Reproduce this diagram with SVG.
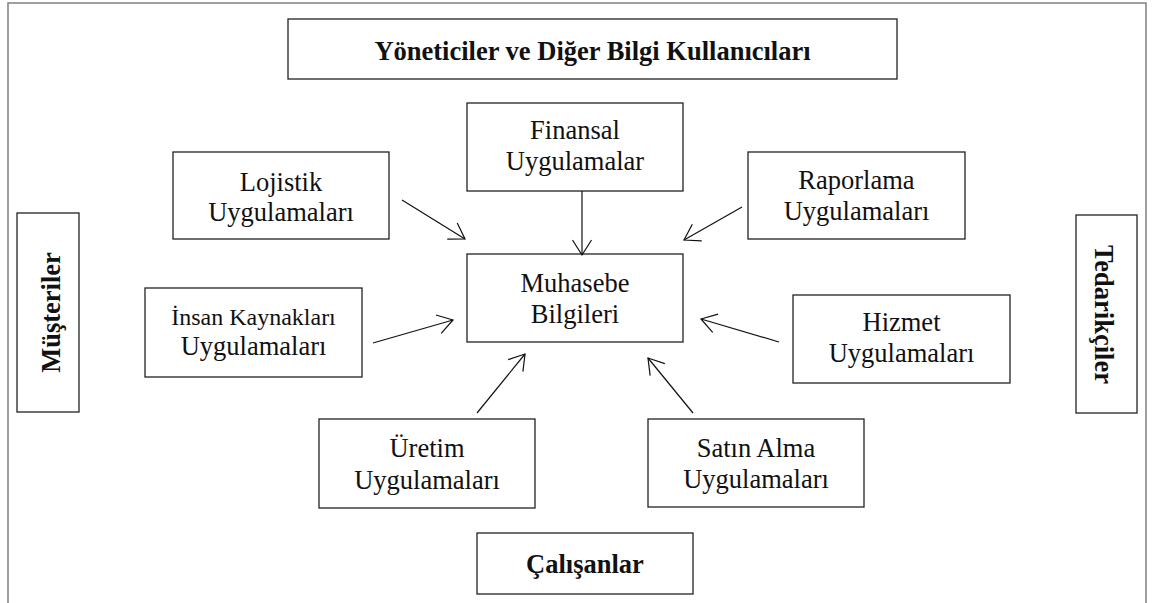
<svg xmlns="http://www.w3.org/2000/svg" width="1156" height="603" viewBox="0 0 1156 603">
<style>
.box{fill:#fff;stroke:#222;stroke-width:1.3}
.t{font-family:"Liberation Serif","Times New Roman",serif;font-size:26.5px;fill:#111;text-anchor:middle}
.b{font-weight:bold}
.c{stroke:#111;stroke-width:1.2;fill:none;marker-end:url(#ah)}
</style>
<defs>
<marker id="ah" markerUnits="userSpaceOnUse" markerWidth="40" markerHeight="40" viewBox="-20 -20 40 40" refX="0" refY="0" orient="auto" overflow="visible">
<path d="M-15,-9.5 L0,0 L-15,9.5" fill="none" stroke="#111" stroke-width="1.2"/>
</marker>
</defs>
<rect width="1156" height="603" fill="#fff"/>
<rect x="8" y="3" width="1138" height="620" fill="none" stroke="#777" stroke-width="1.4"/>

<g id="yoneticiler">
<rect class="box" x="288" y="19" width="609" height="60"/>
<text class="t b" x="592.5" y="60">Yöneticiler ve Diğer Bilgi Kullanıcıları</text>
</g>
<g id="lojistik">
<rect class="box" x="173" y="152" width="216" height="87"/>
<text class="t" x="281" y="191">Lojistik</text>
<text class="t" x="281" y="221">Uygulamaları</text>
</g>
<g id="finansal">
<rect class="box" x="467" y="103" width="216" height="88"/>
<text class="t" x="575" y="139">Finansal</text>
<text class="t" x="575" y="170">Uygulamalar</text>
</g>
<g id="raporlama">
<rect class="box" x="748" y="152" width="217" height="87"/>
<text class="t" x="856.5" y="189">Raporlama</text>
<text class="t" x="856.5" y="220">Uygulamaları</text>
</g>
<g id="musteriler">
<rect class="box" x="17" y="213" width="62" height="199"/>
<text class="t b" transform="translate(60,312.5) rotate(-90)">Müşteriler</text>
</g>
<g id="tedarikciler">
<rect class="box" x="1076" y="215" width="61" height="198"/>
<text class="t b" transform="translate(1095,314.5) rotate(90)">Tedarikçiler</text>
</g>
<g id="insan">
<rect class="box" x="145" y="288" width="217" height="89"/>
<text class="t" x="253.5" y="325" style="font-size:24px">İnsan Kaynakları</text>
<text class="t" x="253.5" y="355">Uygulamaları</text>
</g>
<g id="muhasebe">
<rect class="box" x="467" y="254" width="216" height="88"/>
<text class="t" x="575" y="292">Muhasebe</text>
<text class="t" x="575" y="323">Bilgileri</text>
</g>
<g id="hizmet">
<rect class="box" x="793" y="295" width="217" height="88"/>
<text class="t" x="901.5" y="331">Hizmet</text>
<text class="t" x="901.5" y="362">Uygulamaları</text>
</g>
<g id="uretim">
<rect class="box" x="319" y="419" width="216" height="89"/>
<text class="t" x="427" y="457">Üretim</text>
<text class="t" x="427" y="489">Uygulamaları</text>
</g>
<g id="satinalma">
<rect class="box" x="648" y="419" width="216" height="88"/>
<text class="t" x="756" y="457">Satın Alma</text>
<text class="t" x="756" y="488">Uygulamaları</text>
</g>
<g id="calisanlar">
<rect class="box" x="477" y="533" width="216" height="61"/>
<text class="t b" x="585" y="573">Çalışanlar</text>
</g>

<g id="connectors">
<line class="c" x1="402" y1="200" x2="465" y2="239"/>
<line class="c" x1="582" y1="191" x2="582" y2="255"/>
<line class="c" x1="742" y1="207" x2="684" y2="240"/>
<line class="c" x1="373" y1="343" x2="453" y2="320"/>
<line class="c" x1="779" y1="342" x2="701" y2="319"/>
<line class="c" x1="477" y1="413" x2="525" y2="354"/>
<line class="c" x1="693" y1="413" x2="648" y2="358"/>
</g>
</svg>
